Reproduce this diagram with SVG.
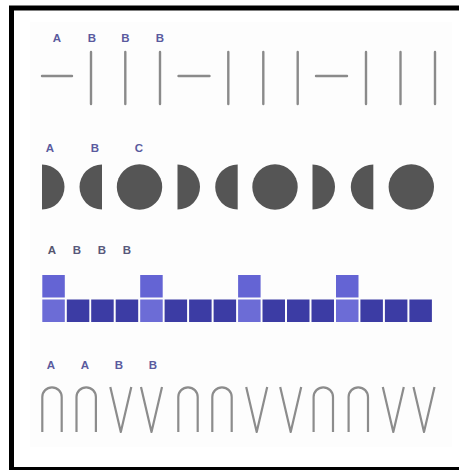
<svg xmlns="http://www.w3.org/2000/svg" width="459" height="470" viewBox="0 0 459 470">
<style>
.lbl{font-family:"Liberation Sans",Arial,sans-serif;font-weight:bold;font-size:11.5px;fill:#5a5a9e;text-anchor:middle}
.ln{stroke:#8a8a8a;stroke-width:2.4;fill:none;stroke-linecap:round}
.disk{fill:#555555}
.lt{fill:#6464d4}
.dk{fill:#3c3ca4}
.arch{stroke:#8c8c8c;stroke-width:2.2;fill:none;stroke-linejoin:round}
</style>
<rect x="0" y="0" width="459" height="470" fill="#ffffff"/>
<rect x="30" y="22" width="422" height="425" fill="#fdfdfd"/>
<rect x="11.5" y="8" width="460" height="461.5" fill="none" stroke="#000" stroke-width="5"/>

<g id="row1">
<text class="lbl" x="57" y="42">A</text>
<text class="lbl" x="92" y="42">B</text>
<text class="lbl" x="125.5" y="42">B</text>
<text class="lbl" x="160" y="42">B</text>
<g id="row1-shapes">
<line class="ln" x1="42" y1="76" x2="72" y2="76"/>
<line class="ln" x1="91" y1="52" x2="91" y2="104"/>
<line class="ln" x1="125.3" y1="52" x2="125.3" y2="104"/>
<line class="ln" x1="160" y1="52" x2="160" y2="104"/>
<line class="ln" x1="178.5" y1="76" x2="209.5" y2="76"/>
<line class="ln" x1="228.3" y1="52" x2="228.3" y2="104"/>
<line class="ln" x1="263.3" y1="52" x2="263.3" y2="104"/>
<line class="ln" x1="297.7" y1="52" x2="297.7" y2="104"/>
<line class="ln" x1="316" y1="76" x2="347" y2="76"/>
<line class="ln" x1="366" y1="52" x2="366" y2="104"/>
<line class="ln" x1="400.5" y1="52" x2="400.5" y2="104"/>
<line class="ln" x1="435" y1="52" x2="435" y2="104"/>
</g>
</g>

<g id="row2">
<text class="lbl" x="50" y="152">A</text>
<text class="lbl" x="95" y="152">B</text>
<text class="lbl" x="139" y="152">C</text>
<g id="row2-shapes">
<path class="disk" d="M42,164.5 A22.5,22.5 0 0 1 42,209.5 Z"/>
<path class="disk" d="M102,164.5 A22.5,22.5 0 0 0 102,209.5 Z"/>
<circle class="disk" cx="139.5" cy="187" r="22.7"/>
<path class="disk" d="M177.5,164.5 A22.5,22.5 0 0 1 177.5,209.5 Z"/>
<path class="disk" d="M237.7,164.5 A22.5,22.5 0 0 0 237.7,209.5 Z"/>
<circle class="disk" cx="275" cy="187" r="22.7"/>
<path class="disk" d="M312.5,164.5 A22.5,22.5 0 0 1 312.5,209.5 Z"/>
<path class="disk" d="M373.3,164.5 A22.5,22.5 0 0 0 373.3,209.5 Z"/>
<circle class="disk" cx="411.3" cy="187" r="22.7"/>
</g>
</g>

<g id="row3">
<text class="lbl" x="52" y="254" style="fill:#55556e">A</text>
<text class="lbl" x="77" y="254" style="fill:#58587a">B</text>
<text class="lbl" x="102" y="254" style="fill:#58587a">B</text>
<text class="lbl" x="127" y="254" style="fill:#58587a">B</text>
<g id="row3-shapes">
<rect class="lt" x="42.3" y="275" width="22.5" height="22.5"/>
<rect class="lt" x="140.2" y="275" width="22.5" height="22.5"/>
<rect class="lt" x="238.1" y="275" width="22.5" height="22.5"/>
<rect class="lt" x="336" y="275" width="22.5" height="22.5"/>
<rect class="lt" x="42.3" y="299.5" width="22.5" height="22.5" style="fill:#6c6cd6"/>
<rect class="dk" x="66.8" y="299.5" width="22.5" height="22.5"/>
<rect class="dk" x="91.2" y="299.5" width="22.5" height="22.5"/>
<rect class="dk" x="115.7" y="299.5" width="22.5" height="22.5"/>
<rect class="lt" x="140.2" y="299.5" width="22.5" height="22.5" style="fill:#6c6cd6"/>
<rect class="dk" x="164.6" y="299.5" width="22.5" height="22.5"/>
<rect class="dk" x="189.1" y="299.5" width="22.5" height="22.5"/>
<rect class="dk" x="213.6" y="299.5" width="22.5" height="22.5"/>
<rect class="lt" x="238.1" y="299.5" width="22.5" height="22.5" style="fill:#6c6cd6"/>
<rect class="dk" x="262.5" y="299.5" width="22.5" height="22.5"/>
<rect class="dk" x="287" y="299.5" width="22.5" height="22.5"/>
<rect class="dk" x="311.5" y="299.5" width="22.5" height="22.5"/>
<rect class="lt" x="336" y="299.5" width="22.5" height="22.5" style="fill:#6c6cd6"/>
<rect class="dk" x="360.4" y="299.5" width="22.5" height="22.5"/>
<rect class="dk" x="384.9" y="299.5" width="22.5" height="22.5"/>
<rect class="dk" x="409.4" y="299.5" width="22.5" height="22.5"/>
</g>
</g>

<g id="row4">
<text class="lbl" x="51" y="369">A</text>
<text class="lbl" x="85" y="369">A</text>
<text class="lbl" x="119" y="369">B</text>
<text class="lbl" x="153" y="369">B</text>
<g id="row4-shapes">
<path class="arch" d="M42.3,432 V397 A9.7,9.7 0 0 1 61.7,397 V432"/>
<path class="arch" d="M76.5,432 V397 A9.7,9.7 0 0 1 95.9,397 V432"/>
<path class="arch" d="M110.3,387 L120.8,432 L131.3,387"/>
<path class="arch" d="M141,387 L151.5,432 L162,387"/>
<path class="arch" d="M178.3,432 V397 A9.7,9.7 0 0 1 197.7,397 V432"/>
<path class="arch" d="M212.3,432 V397 A9.7,9.7 0 0 1 231.7,397 V432"/>
<path class="arch" d="M246.2,387 L256.7,432 L267.2,387"/>
<path class="arch" d="M280.2,387 L290.7,432 L301.2,387"/>
<path class="arch" d="M313.6,432 V397 A9.7,9.7 0 0 1 333,397 V432"/>
<path class="arch" d="M348.6,432 V397 A9.7,9.7 0 0 1 368,397 V432"/>
<path class="arch" d="M382.8,387 L393.3,432 L403.8,387"/>
<path class="arch" d="M413.5,387 L424,432 L434.5,387"/>
</g>
</g>
</svg>
